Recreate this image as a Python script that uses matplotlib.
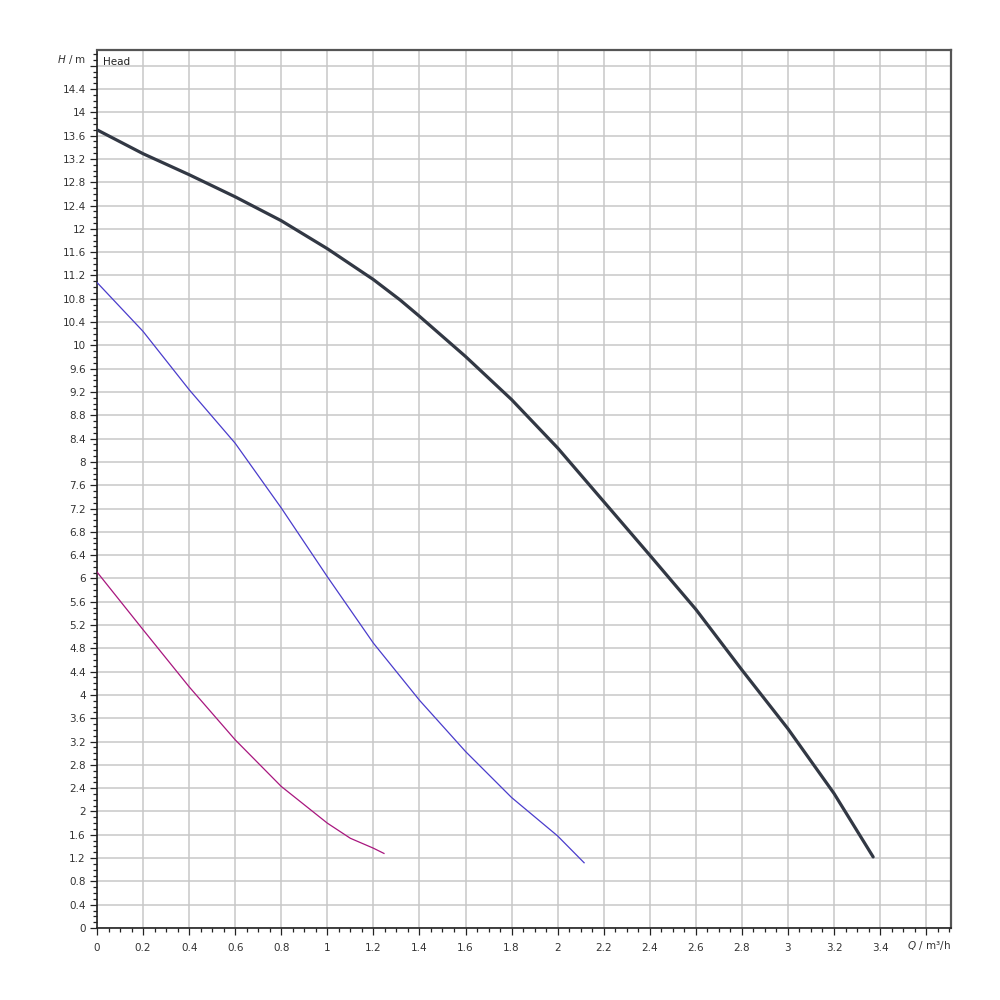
import numpy as np
import matplotlib
matplotlib.use("Agg")
import matplotlib.pyplot as plt
from matplotlib.ticker import MultipleLocator, FixedLocator

# curve data (Q in m3/h, H in m)
q_max = [0, 0.2, 0.4, 0.6, 0.8, 1.0, 1.2, 1.316, 1.4, 1.6, 1.8, 2.0, 2.2, 2.4, 2.6, 2.8, 3.0, 3.2, 3.37]
h_max = [13.70, 13.29, 12.93, 12.55, 12.14, 11.66, 11.13, 10.78, 10.50, 9.81, 9.07, 8.24, 7.32, 6.40, 5.47, 4.43, 3.42, 2.31, 1.22]

q_mid = [0, 0.2, 0.4, 0.6, 0.8, 1.0, 1.2, 1.4, 1.6, 1.8, 2.0, 2.115]
h_mid = [11.08, 10.24, 9.24, 8.32, 7.21, 6.03, 4.89, 3.91, 3.03, 2.24, 1.58, 1.12]

q_min = [0, 0.2, 0.4, 0.6, 0.8, 1.0, 1.1, 1.2, 1.246]
h_min = [6.11, 5.12, 4.14, 3.23, 2.43, 1.80, 1.54, 1.37, 1.28]

x_ticks = [round(0.2 * i, 1) for i in range(19)]
y_ticks = [round(0.4 * i, 1) for i in range(38)]


def fmt(v):
    s = ('%.1f' % v)
    return s[:-2] if s.endswith('.0') else s


x_labels = [fmt(v) if v <= 3.4 else '' for v in x_ticks]
y_labels = [fmt(v) if v <= 14.4 else '' for v in y_ticks]

plt.rcParams['font.family'] = ['DejaVu Sans']

fig = plt.figure(figsize=(10, 10), dpi=100)
ax = fig.add_axes([0.097, 0.072, 0.854, 0.878])

ax.plot(q_max, h_max, color='#323844', lw=2.3, solid_capstyle='round',
        solid_joinstyle='round', zorder=3)
ax.plot(q_mid, h_mid, color='#4a3ccc', lw=0.9, solid_joinstyle='round', zorder=3)
ax.plot(q_min, h_min, color='#a8167e', lw=0.9, solid_joinstyle='round', zorder=3)

ax.set_xlim(0, 3.708)
ax.set_ylim(0, 15.07)

ax.xaxis.set_major_locator(FixedLocator(x_ticks))
ax.yaxis.set_major_locator(FixedLocator(y_ticks))
ax.xaxis.set_minor_locator(MultipleLocator(0.05))
ax.yaxis.set_minor_locator(MultipleLocator(0.1))
ax.set_xticklabels(x_labels)
ax.set_yticklabels(y_labels)

ax.grid(True, which='major', color='#c8c8c8', lw=1.1, zorder=0)
ax.set_axisbelow(True)

ax.tick_params(which='major', direction='out', length=5, width=0.9,
               color='#222222', labelsize=7.5, labelcolor='#333333')
ax.tick_params(which='minor', direction='out', length=3, width=0.9, color='#222222')
ax.tick_params(axis='x', pad=6)
ax.tick_params(axis='y', pad=3)

for side in ['left', 'bottom']:
    ax.spines[side].set_color('#222222')
    ax.spines[side].set_linewidth(1.2)
for side in ['top', 'right']:
    ax.spines[side].set_color('#555555')
    ax.spines[side].set_linewidth(1.6)

ax.text(0.027, 14.87, 'Head', fontsize=7.5, color='#222222', va='center', ha='left')

fig.text(0.086, 0.940, r'$H$ / m', fontsize=7.5, color='#333333', ha='right', va='center')
fig.text(0.951, 0.054, r'$Q$ / m³/h', fontsize=7.5, color='#333333', ha='right', va='center')

fig.savefig('out.png', dpi=100)
